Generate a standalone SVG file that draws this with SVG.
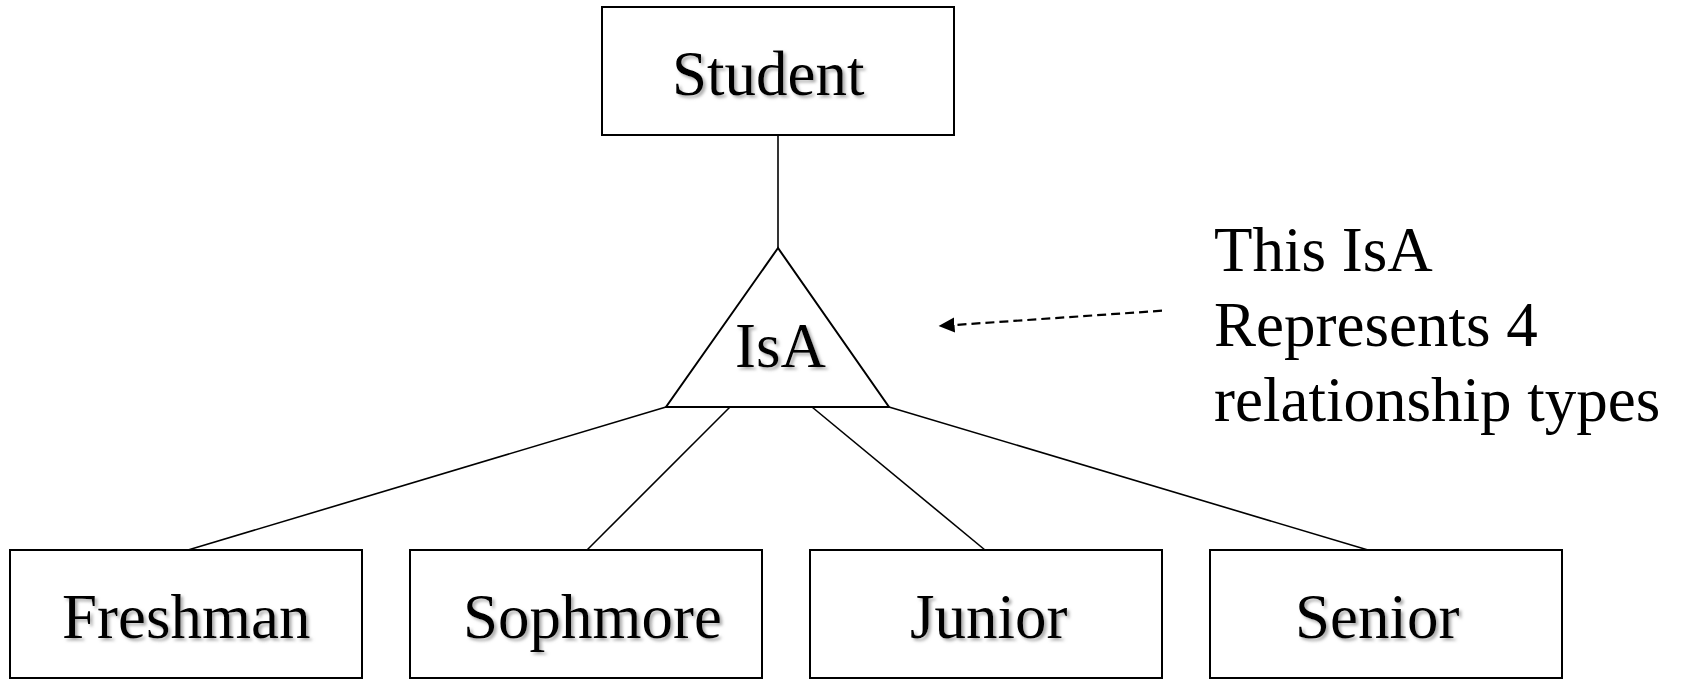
<svg xmlns="http://www.w3.org/2000/svg" width="1686" height="680" viewBox="0 0 1686 680">
<style>
.box{fill:#fff;stroke:#000;stroke-width:2}
.lbl{font-family:"Liberation Serif","Times New Roman",serif;font-size:63px;fill:#000}
.sh{filter:url(#shadow)}
.conn{stroke:#000;stroke-width:1.6;fill:none}
.dash{stroke:#000;stroke-width:2.2;fill:none;stroke-dasharray:9 5}
</style>
<defs>
<filter id="shadow" x="-10%" y="-20%" width="130%" height="150%">
<feDropShadow dx="2.5" dy="2.5" stdDeviation="1.5" flood-color="#888" flood-opacity="0.7"/>
</filter>
<marker id="ah" viewBox="0 0 16 16" refX="0" refY="8" markerWidth="16" markerHeight="16" markerUnits="userSpaceOnUse" orient="auto">
<path d="M0,0.5 L16,8 L0,15.5 z" fill="#000"/>
</marker>
</defs>
<rect width="1686" height="680" fill="#fff"/>
<g id="connectors">
<line class="conn" x1="778" y1="135" x2="778" y2="248"/>
<line class="conn" x1="666" y1="407" x2="188" y2="550"/>
<line class="conn" x1="730" y1="407" x2="587" y2="550"/>
<line class="conn" x1="812" y1="407" x2="985" y2="550"/>
<line class="conn" x1="889" y1="407" x2="1368" y2="550"/>
<line class="dash" x1="1162" y1="310.7" x2="954.5" y2="325" marker-end="url(#ah)"/>
</g>
<g id="student">
<rect class="box" x="602" y="7" width="352" height="128"/>
<text class="lbl sh" x="672" y="95">Student</text>
</g>
<g id="isa">
<polygon points="778,248 666,407 889,407" fill="#fff" stroke="#000" stroke-width="2"/>
<text class="lbl sh" x="735" y="367">IsA</text>
</g>
<g id="freshman">
<rect class="box" x="10" y="550" width="352" height="128"/>
<text class="lbl sh" x="62" y="638">Freshman</text>
</g>
<g id="sophmore">
<rect class="box" x="410" y="550" width="352" height="128"/>
<text class="lbl sh" x="463" y="638">Sophmore</text>
</g>
<g id="junior">
<rect class="box" x="810" y="550" width="352" height="128"/>
<text class="lbl sh" x="910" y="638">Junior</text>
</g>
<g id="senior">
<rect class="box" x="1210" y="550" width="352" height="128"/>
<text class="lbl sh" x="1295" y="638">Senior</text>
</g>
<g id="note">
<text class="lbl" x="1214" y="271">This IsA</text>
<text class="lbl" x="1214" y="346">Represents 4</text>
<text class="lbl" x="1214" y="421">relationship types</text>
</g>
</svg>
